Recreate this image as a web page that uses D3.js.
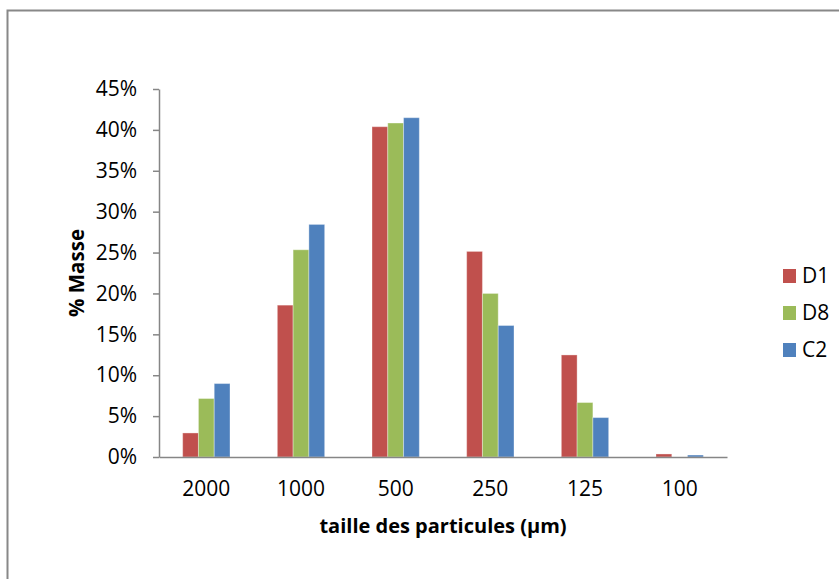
<!DOCTYPE html>
<html>
<head>
<meta charset="utf-8">
<script src="https://cdn.jsdelivr.net/npm/d3@7"></script>
<style>
  html, body { margin: 0; padding: 0; background: #fff; }
  svg { display: block; }
  text { font-family: "Open Sans", "Noto Sans", sans-serif; fill: #000; }
</style>
</head>
<body>
<svg id="chart" width="839" height="579"></svg>
<script>
const categories = ["2000", "1000", "500", "250", "125", "100"];
const seriesNames = ["D1", "D8", "C2"];
const seriesColors = ["#C0504D", "#9BBB59", "#4F81BD"];
const D1 = [0.0294, 0.1857, 0.4039, 0.2514, 0.1248, 0.0037];
const D8 = [0.0715, 0.2534, 0.4084, 0.2000, 0.0666, 0.0000];
const C2 = [0.0898, 0.2844, 0.4149, 0.1608, 0.0482, 0.0024];
const yTicks = [0, 0.05, 0.10, 0.15, 0.20, 0.25, 0.30, 0.35, 0.40, 0.45];
const xTitle = "taille des particules (µm)";
const yTitle = "% Masse";

const seriesValues = [D1, D8, C2];
const svg = d3.select("#chart");

// outer frame
svg.append("rect")
  .attr("x", 7.5).attr("y", 10.5)
  .attr("width", 900).attr("height", 700)
  .attr("fill", "none").attr("stroke", "#888").attr("stroke-width", 2);

const plot = { left: 159, right: 727, top: 89, bottom: 457 };

const x0 = d3.scaleBand().domain(categories)
  .range([plot.left, plot.right]).paddingInner(0.5).paddingOuter(0.25);
const x1 = d3.scaleBand().domain(seriesNames)
  .range([0, x0.bandwidth()]).padding(0);
const y = d3.scaleLinear().domain([0, 0.45]).range([plot.bottom, plot.top]);

// bars
const groups = svg.append("g").selectAll("g")
  .data(categories).join("g")
  .attr("transform", d => `translate(${x0(d)},0)`);
groups.selectAll("rect")
  .data((c, i) => seriesNames.map((s, j) => ({ s, j, v: seriesValues[j][i] })))
  .join("rect")
  .filter(d => d.v > 0)
  .attr("x", d => x1(d.s))
  .attr("y", d => y(d.v))
  .attr("width", x1.bandwidth())
  .attr("height", d => y(0) - y(d.v))
  .attr("fill", d => seriesColors[d.j])
  .attr("stroke", "rgba(255,255,255,0.35)")
  .attr("stroke-width", 1);

// y axis
const yAxis = d3.axisLeft(y).tickValues(yTicks)
  .tickFormat(d3.format(".0%")).tickSize(6).tickSizeOuter(0).tickPadding(16);
const gy = svg.append("g").attr("transform", `translate(${plot.left},0)`).call(yAxis);
gy.select(".domain").attr("stroke", "#868686").attr("stroke-width", 1.5);
gy.selectAll(".tick line").attr("stroke", "#868686").attr("stroke-width", 1.5);
gy.selectAll(".tick text").attr("font-size", 21).attr("font-family", "'Open Sans', sans-serif").attr("fill", "#000");

// x axis
const xAxis = d3.axisBottom(x0).tickSize(0).tickSizeOuter(0).tickPadding(24);
const gx = svg.append("g").attr("transform", `translate(0,${plot.bottom})`).call(xAxis);
gx.select(".domain").attr("stroke", "#868686").attr("stroke-width", 1.5);
gx.selectAll(".tick text").attr("font-size", 21).attr("font-family", "'Open Sans', sans-serif").attr("fill", "#000");

// axis titles
svg.append("text")
  .attr("x", (plot.left + plot.right) / 2).attr("y", 533)
  .attr("text-anchor", "middle").attr("font-weight", "bold").attr("font-size", 20)
  .text(xTitle);
svg.append("text")
  .attr("transform", "translate(84,273) rotate(-90)")
  .attr("text-anchor", "middle").attr("font-weight", "bold").attr("font-size", 20.5)
  .text(yTitle);

// legend
const legend = svg.append("g").selectAll("g")
  .data(seriesNames).join("g")
  .attr("transform", (d, i) => `translate(783,${276 + i * 37})`);
legend.append("rect").attr("x", 0).attr("y", -7).attr("width", 13).attr("height", 14)
  .attr("fill", (d, i) => seriesColors[i]);
legend.append("text").attr("x", 19).attr("y", 0).attr("dy", "0.35em")
  .attr("font-size", 21).text(d => d);
</script>
</body>
</html>
